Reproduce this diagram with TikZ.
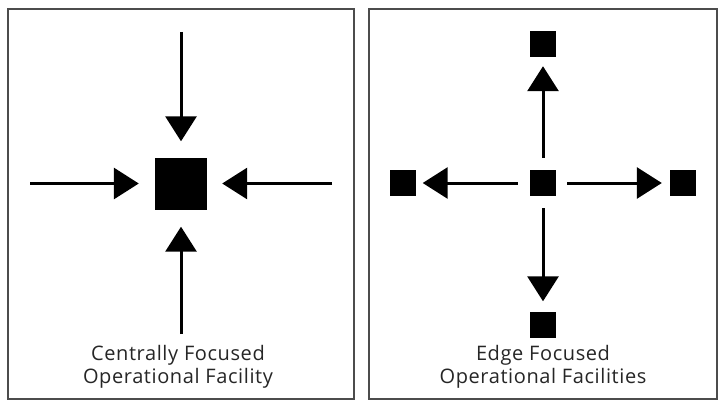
\documentclass[tikz,border=0pt]{standalone}
\usepackage{fontspec}
\setmainfont{Open Sans}[LetterSpace=3]
\usetikzlibrary{arrows.meta}
\begin{document}
\begin{tikzpicture}[x=1pt,y=-1pt,
  frame/.style={draw=black!70,line width=1.6pt},
  bigsq/.style={fill=black,draw=none,minimum size=52pt,inner sep=0pt},
  smsq/.style={fill=black,draw=none,minimum size=26pt,inner sep=0pt},
  arr/.style={line width=3pt,-{Triangle[length=25pt,width=31pt]}},
  lbl/.style={align=center,font=\fontsize{20}{22.5}\selectfont,text=black!85,inner sep=0pt}]
\useasboundingbox (0,0) rectangle (720,401);
\fill[white] (0,0) rectangle (720,401);
% frames
\draw[frame] (8,9) rectangle (354,399);
\draw[frame] (369,9) rectangle (717,399);
% left panel
\node[bigsq] (c) at (181,183.5) {};
\coordinate (lt) at (181,32);
\coordinate (ll) at (30,183.5);
\coordinate (lr) at (332,183.5);
\coordinate (lb) at (181,334);
\draw[arr,shorten >=16pt] (lt) -- (c);
\draw[arr,shorten >=16pt] (ll) -- (c);
\draw[arr,shorten >=15pt] (lr) -- (c);
\draw[arr,shorten >=17pt] (lb) -- (c);
\node[lbl] (t1) at (178,367) {Centrally Focused\\Operational Facility};
% right panel
\node[smsq] (m) at (543,183) {};
\node[smsq] (n) at (543,44) {};
\node[smsq] (w) at (402.5,183) {};
\node[smsq] (e) at (683,183) {};
\node[smsq] (s) at (543,324.5) {};
\draw[arr,shorten <=12pt,shorten >=9pt] (m) -- (n);
\draw[arr,shorten <=12pt,shorten >=7pt] (m) -- (w);
\draw[arr,shorten <=11pt,shorten >=8pt] (m) -- (e);
\draw[arr,shorten <=12pt,shorten >=10pt] (m) -- (s);
\node[lbl] (t2) at (543,367) {Edge Focused\\Operational Facilities};
\end{tikzpicture}
\end{document}
